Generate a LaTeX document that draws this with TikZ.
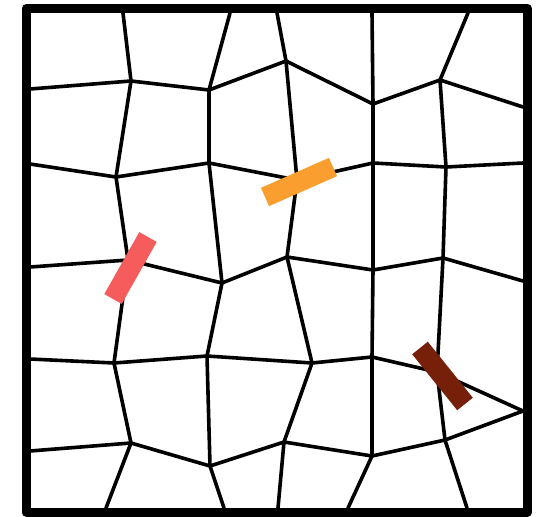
\documentclass[tikz,border=0pt]{standalone}
\definecolor{barred}{RGB}{246,92,92}
\definecolor{barorange}{RGB}{250,158,48}
\definecolor{barbrown}{RGB}{118,32,10}
\tikzset{
  mesh/.style={line width=3.6pt, line join=round, line cap=round},
  frame/.style={line width=9pt, line join=round},
  bar/.style={line width=20pt, line cap=butt}
}
\begin{document}
\begin{tikzpicture}[x=1pt,y=-1pt]
\useasboundingbox (0,0) rectangle (540,516);
% boundary points
\coordinate (t1) at (123,13); \coordinate (t2) at (230,13); \coordinate (t3) at (277,13);
\coordinate (t4) at (372,13); \coordinate (t5) at (468,13);
\coordinate (b1) at (106,508); \coordinate (b2) at (224,508); \coordinate (b3) at (278,508);
\coordinate (b4) at (348,508); \coordinate (b5) at (467,508);
\coordinate (l1) at (30,89); \coordinate (l2) at (30,164); \coordinate (l3) at (30,267);
\coordinate (l4) at (30,359); \coordinate (l5) at (30,451);
\coordinate (r1) at (523,107); \coordinate (r2) at (523,163); \coordinate (r3) at (523,281);
\coordinate (r4) at (523,411);
% interior vertices
\coordinate (a1) at (131,81); \coordinate (a2) at (209,90); \coordinate (a3) at (286,61);
\coordinate (a4) at (373,104); \coordinate (a5) at (440,80);
\coordinate (c1) at (116,177); \coordinate (c2) at (209,163); \coordinate (c3) at (297,180);
\coordinate (c4) at (373,163); \coordinate (c5) at (446,167);
\coordinate (d1) at (128,260); \coordinate (d2) at (222,283); \coordinate (d3) at (287,257);
\coordinate (d4) at (373,270); \coordinate (d5) at (443,258);
\coordinate (e1) at (114,363); \coordinate (e2) at (207,356); \coordinate (e3) at (312,363);
\coordinate (e4) at (372,357); \coordinate (e5) at (437,372);
\coordinate (f1) at (131,443); \coordinate (f2) at (210,466); \coordinate (f3) at (284,442);
\coordinate (f4) at (372,456); \coordinate (f5) at (445,440);
% rows
\draw[mesh] (l1) -- (a1) -- (a2) -- (a3) -- (a4) -- (a5) -- (r1);
\draw[mesh] (l2) -- (c1) -- (c2) -- (c3) -- (c4) -- (c5) -- (r2);
\draw[mesh] (l3) -- (d1) -- (d2) -- (d3) -- (d4) -- (d5) -- (r3);
\draw[mesh] (l4) -- (e1) -- (e2) -- (e3) -- (e4) -- (e5) -- (r4);
\draw[mesh] (l5) -- (f1) -- (f2) -- (f3) -- (f4) -- (f5) -- (r4);
% columns
\draw[mesh] (t1) -- (a1) -- (c1) -- (d1) -- (e1) -- (f1) -- (b1);
\draw[mesh] (t2) -- (a2) -- (c2) -- (d2) -- (e2) -- (f2) -- (b2);
\draw[mesh] (t3) -- (a3) -- (c3) -- (d3) -- (e3) -- (f3) -- (b3);
\draw[mesh] (t4) -- (a4) -- (c4) -- (d4) -- (e4) -- (f4) -- (b4);
\draw[mesh] (t5) -- (a5) -- (c5) -- (d5) -- (e5) -- (f5) -- (b5);
% bars
\coordinate (rA) at (148,237); \coordinate (rB) at (113,299);
\coordinate (oA) at (265,197); \coordinate (oB) at (333,167);
\coordinate (nA) at (420,348); \coordinate (nB) at (465,404);
\draw[bar, barred] (rA) -- (rB);
\draw[bar, barorange] (oA) -- (oB);
\draw[bar, barbrown] (nA) -- (nB);
% frame
\draw[frame] (26,8.5) rectangle (527.5,512);
\end{tikzpicture}
\end{document}
